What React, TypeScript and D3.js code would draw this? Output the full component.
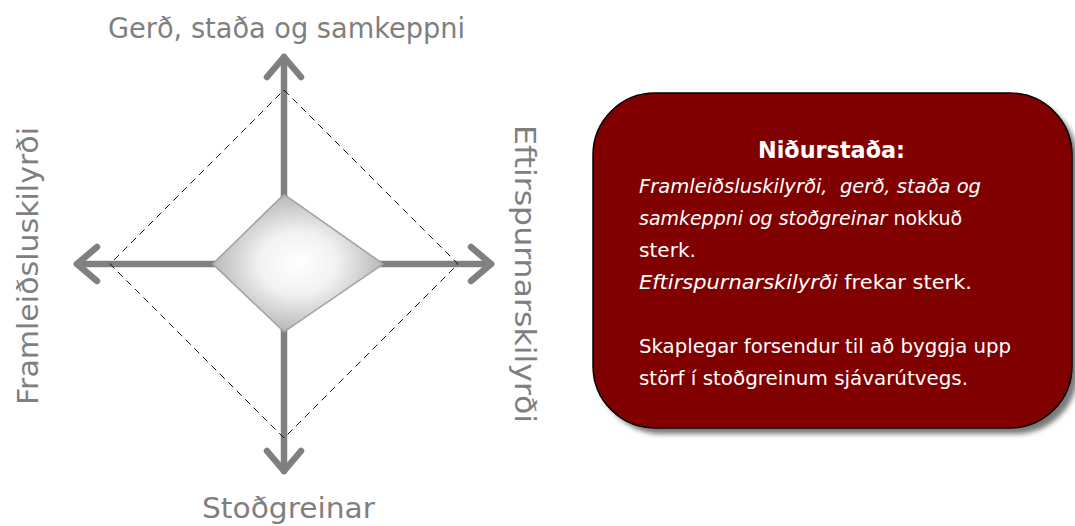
import React from "react";
import * as d3 from "d3";

const axisLabels = ["Gerð, staða og samkeppni", "Eftirspurnarskilyrði", "Stoðgreinar", "Framleiðsluskilyrði"];
const axisAngles = [-90, 0, 90, 180]; // degrees: up, right, down, left
const values = [2.0, 2.85, 1.95, 2.05];
const maxValue = 5;

const boxTitle = "Niðurstaða:";
const boxLines: { text: string; italic: boolean }[][] = [
  [{ text: "Framleiðsluskilyrði,  gerð, staða og", italic: true }],
  [{ text: "samkeppni og stoðgreinar", italic: true }, { text: " nokkuð", italic: false }],
  [{ text: "sterk.", italic: false }],
  [{ text: "Eftirspurnarskilyrði", italic: true }, { text: " frekar sterk.", italic: false }],
  [],
  [{ text: "Skaplegar forsendur til að byggja upp", italic: false }],
  [{ text: "störf í stoðgreinum sjávarútvegs.", italic: false }],
];

const FONT = "'Comic Sans MS', 'DejaVu Sans', sans-serif";

export default function App() {
  const W = 1075, H = 526;
  const cx = 284, cy = 264;
  const r = d3.scaleLinear().domain([0, maxValue]).range([0, 174]);
  const axisLen = 207;
  const grey = "#808080";

  const pt = (deg: number, rad: number): [number, number] => {
    const a = (deg * Math.PI) / 180;
    return [cx + rad * Math.cos(a), cy + rad * Math.sin(a)];
  };

  const outer = axisAngles.map((a) => pt(a, r(maxValue)));
  const inner = axisAngles.map((a, i) => pt(a, r(values[i])));
  const line = d3.line<[number, number]>().curve(d3.curveLinearClosed);

  const boxX = 593, boxY = 93, boxW = 479, boxH = 335;
  const lineLens = [342, 323, 57, 333, 0, 372, 329];
  const lineY = [193, 225, 257, 289, 321, 353, 385];

  const labelStyle = { fontFamily: FONT, fontSize: 28, fill: "#7f7f7f" };

  return (
    <svg width={W} height={H} style={{ position: "absolute", left: 0, top: 0 }}>
      <defs>
        <radialGradient id="ig" cx="0.5" cy="0.5" r="0.5">
          <stop offset="0%" stopColor="#ffffff" />
          <stop offset="45%" stopColor="#f2f2f2" />
          <stop offset="100%" stopColor="#b8b8b8" />
        </radialGradient>
        <filter id="blur" x="-10%" y="-10%" width="120%" height="120%">
          <feGaussianBlur stdDeviation="2.5" />
        </filter>
      </defs>
      <rect width={W} height={H} fill="#fff" />

      {/* axes with arrows */}
      {axisAngles.map((a, i) => {
        const [x2, y2] = pt(a, axisLen);
        const rad = (a * Math.PI) / 180;
        const back = 20, side = 17;
        const bx = x2 - back * Math.cos(rad), by = y2 - back * Math.sin(rad);
        const px = -Math.sin(rad), py = Math.cos(rad);
        return (
          <g key={i} stroke={grey} strokeWidth={6.5} strokeLinecap="round" strokeLinejoin="round" fill="none">
            <line x1={cx} y1={cy} x2={x2} y2={y2} />
            <polyline points={`${bx + px * side},${by + py * side} ${x2},${y2} ${bx - px * side},${by - py * side}`} />
          </g>
        );
      })}

      {/* dashed outer diamond */}
      <path d={line(outer) || ""} fill="none" stroke="#000" strokeWidth={0.9} strokeDasharray="7,5" />

      {/* inner shape */}
      <path d={line(inner) || ""} fill="url(#ig)" stroke="#a0a0a0" strokeWidth={1.5} />

      {/* axis labels */}
      <text x={108} y={38} textLength={357} lengthAdjust="spacingAndGlyphs" {...labelStyle}>{axisLabels[0]}</text>
      <text transform={`translate(515,125) rotate(90)`} textLength={298} lengthAdjust="spacingAndGlyphs" {...labelStyle}>{axisLabels[1]}</text>
      <text x={202} y={518} textLength={173} lengthAdjust="spacingAndGlyphs" {...labelStyle}>{axisLabels[2]}</text>
      <text transform={`translate(38,405) rotate(-90)`} textLength={278} lengthAdjust="spacingAndGlyphs" {...labelStyle}>{axisLabels[3]}</text>

      {/* conclusion box */}
      <rect x={boxX + 6} y={boxY + 6} width={boxW} height={boxH} rx={62} ry={62} fill="#7a7a7a" filter="url(#blur)" />
      <rect x={boxX} y={boxY} width={boxW} height={boxH} rx={62} ry={62} fill="#800000" stroke="#000" strokeWidth={1.5} />
      <text x={758} y={158} textLength={147} lengthAdjust="spacingAndGlyphs" fontFamily={FONT} fontSize={23} fontWeight="bold" fill="#fff">{boxTitle}</text>
      {boxLines.map((segs, i) =>
        segs.length === 0 ? null : (
          <text key={i} x={639} y={lineY[i]} textLength={lineLens[i]} lengthAdjust="spacingAndGlyphs" fontFamily={FONT} fontSize={19.5} fill="#fff" style={{ whiteSpace: "pre" }}>
            {segs.map((s, j) => (
              <tspan key={j} fontStyle={s.italic ? "italic" : "normal"}>{s.text}</tspan>
            ))}
          </text>
        )
      )}
    </svg>
  );
}
